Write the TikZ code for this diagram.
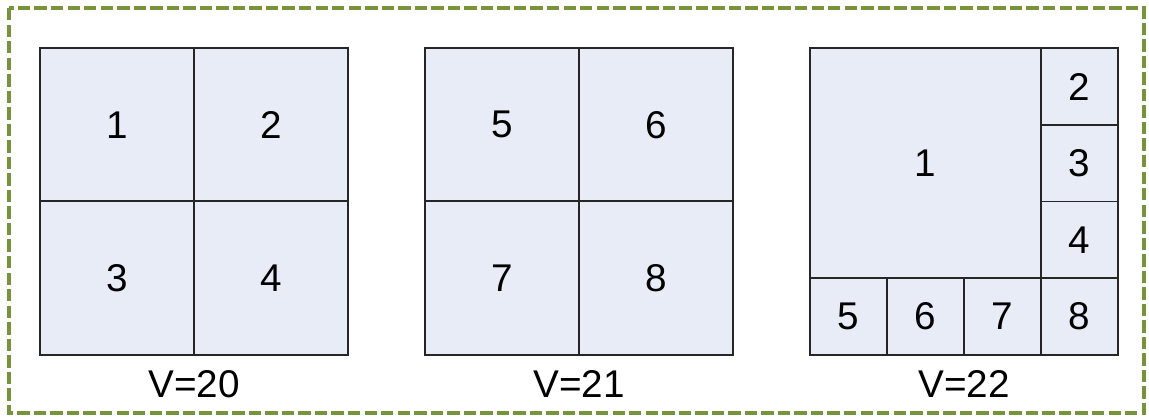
\documentclass[tikz,border=0pt]{standalone}
\usepackage{fontspec}
\setmainfont{Liberation Sans}
\usetikzlibrary{positioning}
\definecolor{cellfill}{HTML}{E8ECF6}
\definecolor{frameolive}{HTML}{77933C}

\begin{document}
\begin{tikzpicture}[
  x=0.75pt, y=-0.75pt,
  every node/.style={font=\fontsize{29}{34}\selectfont},
  cell/.style={
    draw=black!85,
    line width=1.4pt,
    fill=cellfill,
    inner sep=0pt,
    outer sep=0pt,
    minimum width=#1,
    minimum height=#1
  },
  big/.style={cell=115.5pt},
  small/.style={cell=57.75pt},
  caption/.style={inner sep=0pt},
  frame/.style={
    draw=frameolive,
    line width=2.6pt,
    dash pattern=on 9.3pt off 3.1pt
  }
]
\useasboundingbox (0,0) rectangle (1149,418);
\draw[frame] (9,8) rectangle (1144,413);

% V=20
\node[big] (a1) at (117,124.75) {1};
\node[big] (a2) at (271,124.75) {2};
\node[big] (a3) at (117,278.25) {3};
\node[big] (a4) at (271,278.25) {4};
\node[caption] (va) at (194,384) {V=20};

% V=21
\node[big] (b5) at (502,124.75) {5};
\node[big] (b6) at (656,124.75) {6};
\node[big] (b7) at (502,278.25) {7};
\node[big] (b8) at (656,278.25) {8};
\node[caption] (vb) at (579,384) {V=21};

% V=22
\node[cell=173.25pt, minimum height=172.5pt] (c1) at (925.5,163) {1};
\node[small] (c2) at (1079.5,86.5) {2};
\node[small] (c3) at (1079.5,163.5) {3};
\node[small] (c4) at (1079.5,240) {4};
\node[small] (c8) at (1079.5,316.5) {8};
\node[small] (c5) at (848.5,316.5) {5};
\node[small] (c6) at (925.5,316.5) {6};
\node[small] (c7) at (1002.5,316.5) {7};
\node[caption] (vc) at (964,384) {V=22};
\end{tikzpicture}
\end{document}
